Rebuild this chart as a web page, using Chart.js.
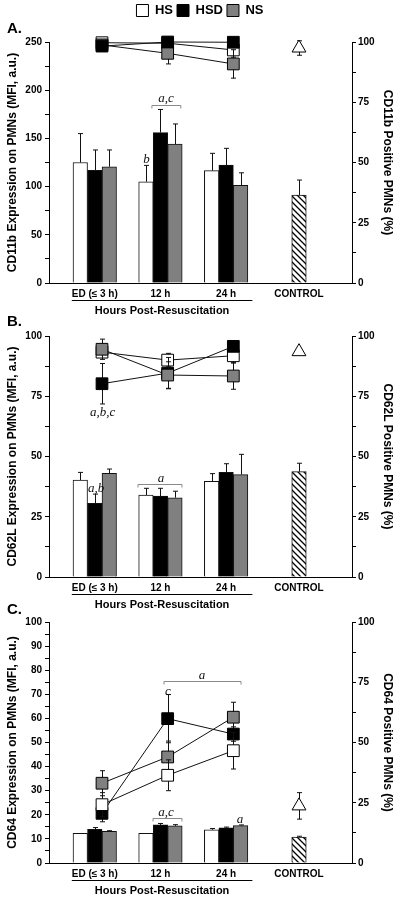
<!DOCTYPE html>
<html>
<head>
<meta charset="utf-8">
<script src="https://cdn.jsdelivr.net/npm/chart.js@4.4.1/dist/chart.umd.min.js"></script>
<style>
html,body{margin:0;padding:0;background:#fff;}
body{width:400px;height:904px;position:relative;overflow:hidden;}
canvas{position:absolute;left:0;}
</style>
</head>
<body>
<canvas id="cA" width="400" height="320" style="top:0px"></canvas>
<canvas id="cB" width="400" height="300" style="top:312px"></canvas>
<canvas id="cC" width="400" height="304" style="top:600px"></canvas>
<script>
// ---------------- DATA ----------------
const categories = ['ED (\u2264 3 h)', '12 h', '24 h', 'CONTROL'];
const groups = ['HS', 'HSD', 'NS'];

// Panel A: CD11b expression (MFI, a.u.) - bars
const cd11bMfiHS  = [125, 105, 116.5];
const cd11bMfiHSD = [117, 156, 122.4];
const cd11bMfiNS  = [120.6, 144, 101.3];
const cd11bMfiCtrl = 91.3;
const cd11bMfiErrHS  = [30, 17, 18];
const cd11bMfiErrHSD = [21, 24, 17.3];
const cd11bMfiErrNS  = [17.4, 21, 13];
const cd11bMfiErrCtrl = 15.5;
// Panel A: CD11b positive PMNs (%) - lines
const cd11bPosHS  = [99.7, 99.5, 96.7];
const cd11bPosHSD = [98.3, 100, 99.9];
const cd11bPosNS  = [98.8, 95.3, 90.9];
const cd11bPosCtrl = 97.5;
const cd11bPosErrHS  = [1, 1, 3];
const cd11bPosErrHSD = [1, 1, 1];
const cd11bPosErrNS  = [1, 4.4, 5.9];
const cd11bPosErrCtrl = 3;

// Panel B: CD62L expression - bars
const cd62lMfiHS  = [40.2, 34, 39.7];
const cd62lMfiHSD = [30.6, 33.6, 43.4];
const cd62lMfiNS  = [43, 32.9, 42.5];
const cd62lMfiCtrl = 43.7;
const cd62lMfiErrHS  = [3.2, 2.8, 3.2];
const cd62lMfiErrHSD = [3.8, 3.2, 3.6];
const cd62lMfiErrNS  = [1.8, 2.7, 8.4];
const cd62lMfiErrCtrl = 3.5;
// Panel B: CD62L positive (%) - lines
const cd62lPosHS  = [93.3, 90, 91.8];
const cd62lPosHSD = [80.2, 84.6, 95.7];
const cd62lPosNS  = [94.5, 83.8, 83.4];
const cd62lPosCtrl = 93.5;
const cd62lPosErrHS  = [1.5, 2.8, 3];
const cd62lPosErrHSD = [8.4, 6.5, 1.5];
const cd62lPosErrNS  = [4.2, 5.5, 5.5];
const cd62lPosErrCtrl = 0;

// Panel C: CD64 expression - bars
const cd64MfiHS  = [12.3, 12.3, 13.8];
const cd64MfiHSD = [14, 15.8, 14.6];
const cd64MfiNS  = [13.1, 15.4, 15.5];
const cd64MfiCtrl = 10.8;
const cd64MfiErrHS  = [0, 0, 0.5];
const cd64MfiErrHSD = [0.7, 0.6, 0.3];
const cd64MfiErrNS  = [0.3, 0.5, 0.3];
const cd64MfiErrCtrl = 0.3;
// Panel C: CD64 positive (%) - lines
const cd64PosHS  = [24.2, 36.4, 46.6];
const cd64PosHSD = [20.6, 59.9, 53.5];
const cd64PosNS  = [33.1, 44, 60.5];
const cd64PosCtrl = 23.7;
const cd64PosErrHS  = [5, 6.4, 7.6];
const cd64PosErrHSD = [3.5, 10, 3];
const cd64PosErrNS  = [5.2, 6.6, 6.2];
const cd64PosErrCtrl = 5.5;

// ---------------- LAYOUT / STYLE ----------------
const FONT = '"Liberation Sans", Arial, Helvetica, sans-serif';
const SERIF = '"Liberation Serif", "Times New Roman", serif';
const COLORS = {HS: '#ffffff', HSD: '#000000', NS: '#808080'};
const BAR_SHIFT = -0.11;
const X_MIN = 0.193, X_MAX = 4.807;
const HOURS_SPAN = [0.54, 3.29];
const linePos = i => i + 1;
const barPos = i => (i < 3 ? i + 1 + BAR_SHIFT : i + 1);

function hatchPattern() {
  const c = document.createElement('canvas');
  c.width = 6; c.height = 6;
  const g = c.getContext('2d');
  g.fillStyle = '#fff'; g.fillRect(0, 0, 6, 6);
  g.strokeStyle = '#000'; g.lineWidth = 1.3;
  g.beginPath();
  g.moveTo(-1, -1); g.lineTo(7, 7);
  g.moveTo(-1, 5); g.lineTo(1, 7);
  g.moveTo(5, -1); g.lineTo(7, 1);
  g.stroke();
  return g.createPattern(c, 'repeat');
}

const errorBars = {
  id: 'errorBars',
  beforeDatasetDraw(chart, args) {
    const ds = chart.data.datasets[args.index];
    if (!ds.errors) return;
    const meta = args.meta;
    const ys = chart.scales[meta.yAxisID];
    const ctx = chart.ctx;
    ctx.save();
    ctx.strokeStyle = '#111';
    ctx.lineWidth = 1;
    meta.data.forEach((el, i) => {
      const d = ds.data[i];
      const e = ds.errors[i];
      if (!d || d.y === null || !e) return;
      const x = Math.round(el.x) + 0.5;
      const yTop = ys.getPixelForValue(d.y + e);
      const yBot = ds.errUp ? ys.getPixelForValue(d.y) : ys.getPixelForValue(d.y - e);
      ctx.beginPath();
      ctx.moveTo(x, yBot); ctx.lineTo(x, yTop);
      ctx.moveTo(x - 2.5, yTop); ctx.lineTo(x + 2.5, yTop);
      if (!ds.errUp) { ctx.moveTo(x - 2.5, yBot); ctx.lineTo(x + 2.5, yBot); }
      ctx.stroke();
    });
    ctx.restore();
  }
};

function decoPlugin(cfg) {
  return {
    id: 'deco',
    afterDraw(chart) {
      const ctx = chart.ctx, xs = chart.scales.x, ca = chart.chartArea;
      ctx.save();
      ctx.fillStyle = '#000';
      ctx.font = 'bold 15px ' + FONT;
      ctx.textAlign = 'left'; ctx.textBaseline = 'middle';
      ctx.fillText(cfg.letter, 7, cfg.letterY);
      const x1 = xs.getPixelForValue(HOURS_SPAN[0]);
      const x2 = xs.getPixelForValue(HOURS_SPAN[1]);
      ctx.strokeStyle = '#000'; ctx.lineWidth = 1;
      ctx.beginPath();
      ctx.moveTo(x1, Math.round(ca.bottom + 17) + 0.5);
      ctx.lineTo(x2, Math.round(ca.bottom + 17) + 0.5);
      ctx.stroke();
      ctx.font = 'bold 11px ' + FONT;
      ctx.textAlign = 'center';
      ctx.fillText('Hours Post-Resuscitation', (x1 + x2) / 2, ca.bottom + 27.5);
      // brackets
      ctx.strokeStyle = '#8a8a8a';
      cfg.brackets.forEach(b => {
        const ys = chart.scales[b.ax];
        const y = Math.round(ys.getPixelForValue(b.y)) + 0.5;
        const bx1 = xs.getPixelForValue(b.x1), bx2 = xs.getPixelForValue(b.x2);
        ctx.beginPath();
        ctx.moveTo(bx1, y + 3); ctx.lineTo(bx1, y); ctx.lineTo(bx2, y); ctx.lineTo(bx2, y + 3);
        ctx.stroke();
      });
      ctx.fillStyle = '#111';
      ctx.font = 'italic 13px ' + SERIF;
      ctx.textBaseline = 'alphabetic';
      cfg.notes.forEach(n => {
        const ys = chart.scales[n.ax];
        ctx.fillText(n.t, xs.getPixelForValue(n.x), ys.getPixelForValue(n.y));
      });
      ctx.restore();
    }
  };
}

function makePanel(id, cfg) {
  const pattern = hatchPattern();
  const datasets = [];
  groups.forEach((g, gi) => {
    const vals = cfg.bars[gi].concat([null]);
    datasets.push({
      type: 'bar', label: g, order: 10, yAxisID: 'y',
      data: vals.map((v, i) => ({x: barPos(i), y: v})),
      errors: cfg.barErr[gi], errUp: true,
      backgroundColor: COLORS[g], borderColor: '#111', borderWidth: 1,
      borderSkipped: 'start', barThickness: 14.5, skipNull: true
    });
  });
  datasets.push({
    type: 'bar', label: 'CONTROL', order: 10, yAxisID: 'y',
    data: [null, null, null, cfg.ctrlBar].map((v, i) => ({x: barPos(i), y: v})),
    errors: [0, 0, 0, cfg.ctrlBarErr], errUp: true,
    backgroundColor: pattern, borderColor: '#111', borderWidth: 1,
    borderSkipped: 'start', barThickness: 14.5, skipNull: true
  });
  groups.forEach((g, gi) => {
    datasets.push({
      type: 'line', label: g + ' %', order: cfg.lineOrder[gi], yAxisID: 'y2',
      data: cfg.lines[gi].map((v, i) => ({x: linePos(i), y: v})),
      errors: cfg.lineErr[gi],
      borderColor: '#111', borderWidth: 1, tension: 0, fill: false, clip: false,
      pointStyle: 'rect', pointRadius: 8.3, pointBackgroundColor: COLORS[g],
      pointBorderColor: '#000', pointBorderWidth: 1
    });
  });
  datasets.push({
    type: 'line', label: 'CONTROL %', order: 4, yAxisID: 'y2',
    data: [{x: linePos(3), y: cfg.ctrlLine}], errors: [cfg.ctrlLineErr],
    showLine: false, clip: false,
    pointStyle: 'triangle', pointRadius: 8, pointBackgroundColor: '#fff',
    pointBorderColor: '#000', pointBorderWidth: 1
  });

  const tickFont = {family: FONT, size: 10, weight: 'bold'};
  const titleFont = {family: FONT, size: 12, weight: 'bold'};
  const tickPositions = categories.map((c, i) => barPos(i));

  const chart = new Chart(document.getElementById(id), {
    data: {datasets},
    plugins: [errorBars, decoPlugin(cfg)],
    options: {
      responsive: false, animation: false, events: [],
      layout: {padding: {top: cfg.padTop, left: 0, right: 0, bottom: 0}},
      plugins: {
        tooltip: {enabled: false},
        legend: cfg.legend ? {
          display: true, position: 'top', onClick: null,
          labels: {
            boxWidth: 12, boxHeight: 12, padding: 4, color: '#000',
            font: {family: FONT, size: 13, weight: 'bold'},
            generateLabels: () => groups.map(g => ({
              text: g, fillStyle: COLORS[g], strokeStyle: '#000', lineWidth: 1, hidden: false, fontColor: '#000'
            }))
          }
        } : {display: false}
      },
      scales: {
        x: {
          type: 'linear', min: X_MIN, max: X_MAX, offset: false,
          afterBuildTicks: s => { s.ticks = tickPositions.map(v => ({value: v})); },
          afterFit: s => { s.height = cfg.xHeight; },
          ticks: {autoSkip: false, maxRotation: 0, padding: 5, color: '#000', font: tickFont,
                  callback: (v, i) => categories[i]},
          grid: {offset: false, drawOnChartArea: false, drawTicks: false},
          border: {display: true, color: '#000', width: 1}
        },
        y: {
          position: 'left', min: 0, max: cfg.yMax,
          afterFit: s => { s.width = 49; },
          ticks: {stepSize: cfg.yStep, autoSkip: false, padding: 3, color: '#000', font: tickFont,
                  callback: v => (Math.abs(v % cfg.yLabelEvery) < 1e-9 ? String(v) : '')},
          grid: {drawOnChartArea: false, drawTicks: true, tickLength: 4, color: '#000'},
          border: {display: true, color: '#000', width: 1},
          title: {display: true, text: cfg.yTitle, color: '#000', font: titleFont, padding: {top: 5, bottom: 0}}
        },
        y2: {
          position: 'right', min: 0, max: 100,
          afterFit: s => { s.width = 48; },
          ticks: {stepSize: 12.5, autoSkip: false, padding: 2, color: '#000', font: tickFont,
                  callback: v => (Math.abs(v % 25) < 1e-9 ? String(v) : '')},
          grid: {drawOnChartArea: false, drawTicks: true, tickLength: 4, color: '#000'},
          border: {display: true, color: '#000', width: 1},
          title: {display: true, text: cfg.y2Title, color: '#000', font: titleFont, padding: {top: 5, bottom: 0}}
        }
      }
    }
  });
  if (cfg.legend && chart.legend) {
    const lg = chart.legend;
    const origFit = lg.fit.bind(lg);
    lg.fit = function () { origFit(); this.height = cfg.legendHeight; };
    chart.update();
  }
}

makePanel('cA', {
  letter: 'A.', letterY: 29, legend: true, legendHeight: 42, padTop: 0, xHeight: 37,
  yMax: 250, yStep: 25, yLabelEvery: 50,
  yTitle: 'CD11b Expression on PMNs (MFI, a.u.)', y2Title: 'CD11b Positive PMNs (%)',
  bars: [cd11bMfiHS, cd11bMfiHSD, cd11bMfiNS], barErr: [cd11bMfiErrHS, cd11bMfiErrHSD, cd11bMfiErrNS],
  ctrlBar: cd11bMfiCtrl, ctrlBarErr: cd11bMfiErrCtrl,
  lines: [cd11bPosHS, cd11bPosHSD, cd11bPosNS], lineErr: [cd11bPosErrHS, cd11bPosErrHSD, cd11bPosErrNS],
  ctrlLine: cd11bPosCtrl, ctrlLineErr: cd11bPosErrCtrl,
  lineOrder: [3, 1, 2],
  notes: [{t: 'b', x: 1.678, y: 124, ax: 'y'}, {t: 'a,c', x: 1.975, y: 187.8, ax: 'y'}],
  brackets: [{x1: 1.76, x2: 2.20, y: 184.6, ax: 'y'}]
});

makePanel('cB', {
  letter: 'B.', letterY: 10, legend: false, padTop: 24, xHeight: 35,
  yMax: 100, yStep: 12.5, yLabelEvery: 25,
  yTitle: 'CD62L Expression on PMNs (MFI, a.u.)', y2Title: 'CD62L Positive PMNs (%)',
  bars: [cd62lMfiHS, cd62lMfiHSD, cd62lMfiNS], barErr: [cd62lMfiErrHS, cd62lMfiErrHSD, cd62lMfiErrNS],
  ctrlBar: cd62lMfiCtrl, ctrlBarErr: cd62lMfiErrCtrl,
  lines: [cd62lPosHS, cd62lPosHSD, cd62lPosNS], lineErr: [cd62lPosErrHS, cd62lPosErrHSD, cd62lPosErrNS],
  ctrlLine: cd62lPosCtrl, ctrlLineErr: cd62lPosErrCtrl,
  lineOrder: [3, 2, 1],
  notes: [{t: 'a,b,c', x: 1.01, y: 67.0, ax: 'y2'}, {t: 'a,b', x: 0.909, y: 35.1, ax: 'y'}, {t: 'a', x: 1.898, y: 39.5, ax: 'y'}],
  brackets: [{x1: 1.548, x2: 2.218, y: 38.6, ax: 'y'}]
});

makePanel('cC', {
  letter: 'C.', letterY: 9.5, legend: false, padTop: 22, xHeight: 41,
  yMax: 100, yStep: 5, yLabelEvery: 10,
  yTitle: 'CD64 Expression on PMNs (MFI, a.u.)', y2Title: 'CD64 Positive PMNs (%)',
  bars: [cd64MfiHS, cd64MfiHSD, cd64MfiNS], barErr: [cd64MfiErrHS, cd64MfiErrHSD, cd64MfiErrNS],
  ctrlBar: cd64MfiCtrl, ctrlBarErr: cd64MfiErrCtrl,
  lines: [cd64PosHS, cd64PosHSD, cd64PosNS], lineErr: [cd64PosErrHS, cd64PosErrHSD, cd64PosErrNS],
  ctrlLine: cd64PosCtrl, ctrlLineErr: cd64PosErrCtrl,
  lineOrder: [1, 2, 3],
  notes: [{t: 'c', x: 2.005, y: 69.7, ax: 'y2'}, {t: 'a', x: 2.523, y: 76.3, ax: 'y2'},
          {t: 'a,c', x: 1.975, y: 19.7, ax: 'y'}, {t: 'a', x: 3.10, y: 16.8, ax: 'y'}],
  brackets: [{x1: 1.944, x2: 3.117, y: 75.6, ax: 'y2'}, {x1: 1.777, x2: 2.218, y: 18.5, ax: 'y'}]
});
</script>
</body>
</html>
